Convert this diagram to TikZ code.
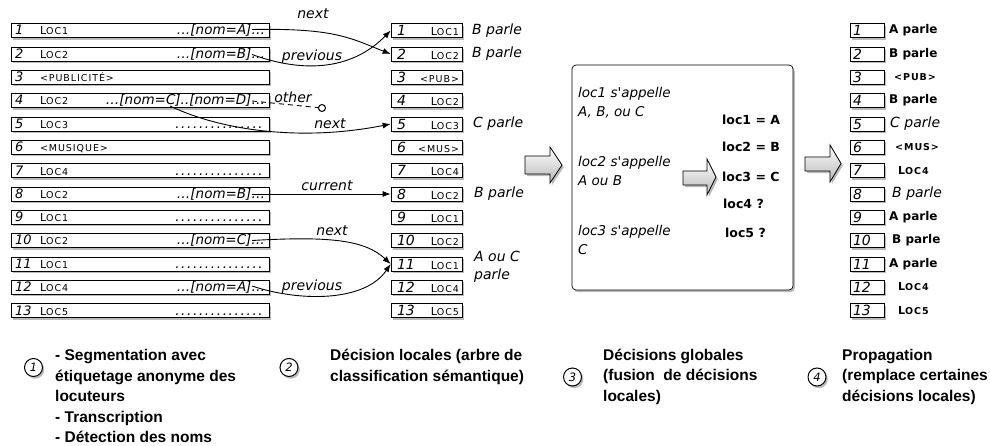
\documentclass[tikz,border=0pt]{standalone}
\usepackage{fontspec}
\setmainfont{Liberation Sans}
\newfontfamily\dvfont{DejaVu Sans}
\newfontfamily\scfont[LetterSpace=10]{DejaVu Sans}
\usetikzlibrary{shadows,arrows.meta}

% small caps made by hand, italic labels in an oblique sans
\newcommand{\sml}[2]{{\scfont\fontsize{11}{11}\selectfont #1\fontsize{9.5}{9.5}\selectfont #2}}
\newcommand{\obl}{\dvfont\itshape}
\newcommand{\segrow}[3]{\makebox[250pt][l]{\makebox[25pt][l]{\obl\fontsize{13}{13}\selectfont #1}#2\hfill{\obl\fontsize{13.5}{13.5}\selectfont #3}}}
\newcommand{\decrow}[2]{\makebox[65pt][l]{\hspace{3pt}{\obl\fontsize{14}{14}\selectfont #1}\hfill #2}}
\newcommand{\propnum}[1]{\makebox[28pt][l]{\obl\fontsize{14}{14}\selectfont #1}}
\newcommand{\dotrow}{\makebox[92pt]{\dotfill}}

\tikzset{
  shade box/.style={drop shadow={shadow xshift=1.8pt, shadow yshift=-2.2pt, opacity=0.45, fill=gray!80!black}},
  segbox/.style={draw, fill=white, line width=0.7pt, minimum height=14pt, inner sep=0pt, shade box},
  seg/.style={segbox, minimum width=258pt},
  dec/.style={segbox, minimum width=71pt},
  prop/.style={segbox, minimum width=34pt},
  link/.style={-{Latex[length=8pt,width=6pt]}, line width=0.9pt},
  linklabel/.style={font=\obl\fontsize{14}{14}\selectfont, inner sep=0pt},
  talk/.style={font=\obl\fontsize{14}{18}\selectfont, inner sep=0pt, anchor=west, align=left},
  talkbold/.style={font=\dvfont\bfseries\fontsize{12}{12}\selectfont, inner sep=0pt, anchor=west},
  stepcirc/.style={circle, draw, fill=white, line width=1pt, minimum size=18pt, inner sep=0pt, shade box, font=\obl\fontsize{11.5}{11.5}\selectfont},
  caption/.style={font=\bfseries\fontsize{15.5}{20.5}\selectfont, align=left, anchor=base west, inner sep=0pt},
  bigarrow/.style={draw, line width=0.8pt, top color=white, bottom color=gray!55, shade box},
}

\begin{document}
\begin{tikzpicture}[x=1pt,y=-1pt]
    \useasboundingbox (0,0) rectangle (990,446);

    % 1 - segmentation
    \node[seg] (s1) at (140,30.5) {\segrow{1}{\sml{L}{OC1}}{\ldots[nom=A]\ldots}};
    \node[seg] (s2) at (140,54) {\segrow{2}{\sml{L}{OC2}}{\ldots[nom=B]\ldots}};
    \node[seg] (s3) at (140,77) {\segrow{3}{\sml{}{<PUBLICITÉ>}}{}};
    \node[seg] (s4) at (140,100.5) {\segrow{4}{\sml{L}{OC2}}{\ldots[nom=C]..[nom=D]\ldots}};
    \node[seg] (s5) at (140,124) {\segrow{5}{\sml{L}{OC3}}{\dotrow}};
    \node[seg] (s6) at (140,147) {\segrow{6}{\sml{}{<MUSIQUE>}}{}};
    \node[seg] (s7) at (140,170.5) {\segrow{7}{\sml{L}{OC4}}{\dotrow}};
    \node[seg] (s8) at (140,194) {\segrow{8}{\sml{L}{OC2}}{\ldots[nom=B]\ldots}};
    \node[seg] (s9) at (140,217) {\segrow{9}{\sml{L}{OC1}}{\dotrow}};
    \node[seg] (s10) at (140,240.5) {\segrow{10}{\sml{L}{OC2}}{\ldots[nom=C]\ldots}};
    \node[seg] (s11) at (140,264) {\segrow{11}{\sml{L}{OC1}}{\dotrow}};
    \node[seg] (s12) at (140,287) {\segrow{12}{\sml{L}{OC4}}{\ldots[nom=A]\ldots}};
    \node[seg] (s13) at (140,310.5) {\segrow{13}{\sml{L}{OC5}}{\dotrow}};

    % 2 - local decisions
    \node[dec] (d1) at (426.5,30.5) {\decrow{1}{\sml{L}{OC1}}};
    \node[dec] (d2) at (426.5,54) {\decrow{2}{\sml{L}{OC2}}};
    \node[dec] (d3) at (426.5,77) {\decrow{3}{\sml{}{<PUB>}}};
    \node[dec] (d4) at (426.5,100.5) {\decrow{4}{\sml{L}{OC2}}};
    \node[dec] (d5) at (426.5,124) {\decrow{5}{\sml{L}{OC3}}};
    \node[dec] (d6) at (426.5,147) {\decrow{6}{\sml{}{<MUS>}}};
    \node[dec] (d7) at (426.5,170.5) {\decrow{7}{\sml{L}{OC4}}};
    \node[dec] (d8) at (426.5,194) {\decrow{8}{\sml{L}{OC2}}};
    \node[dec] (d9) at (426.5,217) {\decrow{9}{\sml{L}{OC1}}};
    \node[dec] (d10) at (426.5,240.5) {\decrow{10}{\sml{L}{OC2}}};
    \node[dec] (d11) at (426.5,264) {\decrow{11}{\sml{L}{OC1}}};
    \node[dec] (d12) at (426.5,287) {\decrow{12}{\sml{L}{OC4}}};
    \node[dec] (d13) at (426.5,310.5) {\decrow{13}{\sml{L}{OC5}}};

    \node[talk] (d1t) at (472,30.5) {B parle};
    \node[talk] (d2t) at (472,54) {B parle};
    \node[talk] (d5t) at (473,124) {C parle};
    \node[talk] (d8t) at (474,194) {B parle};
    \node[talk] (d11t) at (474,267) {A ou C\\parle};

    % links between segments
    \coordinate (a1) at (252,29.5);
    \coordinate (b2) at (252,54.5);
    \coordinate (d4o) at (252,101);
    \coordinate (c4) at (170,106);
    \coordinate (b8) at (252,194);
    \coordinate (c10) at (252,240.5);
    \coordinate (a12) at (252,286);
    \node[circle, draw, line width=1pt, minimum size=7pt, inner sep=0pt] (oc) at (322,108) {};

    \draw[link] (a1) .. controls (335,28) and (350,38) .. (d2.west);
    \draw[link] (b2) .. controls (300,72) and (350,72) .. (d1.west);
    \draw[dashed, dash pattern=on 5pt off 4pt, line width=0.9pt] (d4o) -- (oc);
    \draw[link] (c4) .. controls (220,130) and (300,142) .. (d5.west);
    \draw[link] (b8) -- (d8.west);
    \draw[link] (c10) .. controls (330,236) and (365,240) .. (d11.west);
    \draw[link] (a12) .. controls (300,302) and (365,302) .. (d11.west);

    \node[linklabel] (l1) at (313,14) {next};
    \node[linklabel] (l2) at (312,57) {previous};
    \node[linklabel] (l3) at (293,97) {other};
    \node[linklabel] (l4) at (330,124) {next};
    \node[linklabel] (l5) at (327,186) {current};
    \node[linklabel] (l6) at (332,231) {next};
    \node[linklabel] (l7) at (312,287) {previous};

    % 3 - global decisions
    \path[bigarrow] (525,156) -- (550,156) -- (550,147) -- (562,165) -- (550,183) -- (550,174) -- (525,174) -- cycle;
    \node[draw, fill=white, rounded corners=4pt, line width=0.7pt, minimum width=221pt, minimum height=225pt, shade box] (glob) at (682.5,177.5) {};
    \node[talk, font=\obl\fontsize{13.5}{19}\selectfont] (g1) at (578,102.5) {loc1 s'appelle\\A, B, ou C};
    \node[talk, font=\obl\fontsize{13.5}{19}\selectfont] (g2) at (578,171) {loc2 s'appelle\\A ou B};
    \node[talk, font=\obl\fontsize{13.5}{19}\selectfont] (g3) at (578,240) {loc3 s'appelle\\C};
    \path[bigarrow] (683,171) -- (707,171) -- (707,159) -- (716,177) -- (707,195) -- (707,185) -- (683,185) -- cycle;
    \node[talkbold, font=\dvfont\bfseries\fontsize{12.5}{12.5}\selectfont] (r1) at (722,120) {loc1 = A};
    \node[talkbold, font=\dvfont\bfseries\fontsize{12.5}{12.5}\selectfont] (r2) at (722,147) {loc2 = B};
    \node[talkbold, font=\dvfont\bfseries\fontsize{12.5}{12.5}\selectfont] (r3) at (722,177) {loc3 = C};
    \node[talkbold, font=\dvfont\bfseries\fontsize{12.5}{12.5}\selectfont] (r4) at (723,204) {loc4 ?};
    \node[talkbold, font=\dvfont\bfseries\fontsize{12.5}{12.5}\selectfont] (r5) at (725,233) {loc5 ?};

    % 4 - propagation
    \path[bigarrow] (805,157) -- (830,157) -- (830,145) -- (841,163.5) -- (830,182) -- (830,171) -- (805,171) -- cycle;
    \node[prop] (p1) at (867,30.5) {\propnum{1}};
    \node[prop] (p2) at (867,54) {\propnum{2}};
    \node[prop] (p3) at (867,77) {\propnum{3}};
    \node[prop] (p4) at (867,100.5) {\propnum{4}};
    \node[prop] (p5) at (867,124) {\propnum{5}};
    \node[prop] (p6) at (867,147) {\propnum{6}};
    \node[prop] (p7) at (867,170.5) {\propnum{7}};
    \node[prop] (p8) at (867,194) {\propnum{8}};
    \node[prop] (p9) at (867,217) {\propnum{9}};
    \node[prop] (p10) at (867,240.5) {\propnum{10}};
    \node[prop] (p11) at (867,264) {\propnum{11}};
    \node[prop] (p12) at (867,287) {\propnum{12}};
    \node[prop] (p13) at (867,310.5) {\propnum{13}};

    \node[talkbold] (p1t) at (889,30.5) {A parle};
    \node[talkbold] (p2t) at (889,54) {B parle};
    \node[talkbold] (p3t) at (894,77) {\sml{}{<PUB>}};
    \node[talkbold] (p4t) at (889,100.5) {B parle};
    \node[talk] (p5t) at (890,124) {C parle};
    \node[talkbold] (p6t) at (895,147) {\sml{}{<MUS>}};
    \node[talkbold] (p7t) at (898,170.5) {\sml{L}{OC4}};
    \node[talk] (p8t) at (892,194) {B parle};
    \node[talkbold] (p9t) at (889,217) {A parle};
    \node[talkbold] (p10t) at (892,240.5) {B parle};
    \node[talkbold] (p11t) at (889,264) {A parle};
    \node[talkbold] (p12t) at (898,287) {\sml{L}{OC4}};
    \node[talkbold] (p13t) at (898,310.5) {\sml{L}{OC5}};

    % captions (base = last line)
    \node[stepcirc] (n1) at (33.5,367.5) {1};
    \node[stepcirc] (n2) at (289,367.5) {2};
    \node[stepcirc] (n3) at (572.5,377) {3};
    \node[stepcirc] (n4) at (817,377) {4};
    \node[caption] (cap1) at (55,442.5) {- Segmentation avec\\étiquetage anonyme des\\locuteurs\\- Transcription\\- Détection des noms};
    \node[caption] (cap2) at (330,381) {Décision locales (arbre de\\classification sémantique)};
    \node[caption] (cap3) at (603,401) {Décisions globales\\(fusion~ de décisions\\locales)};
    \node[caption] (cap4) at (842,401) {Propagation\\(remplace certaines\\décisions locales)};
\end{tikzpicture}
\end{document}
